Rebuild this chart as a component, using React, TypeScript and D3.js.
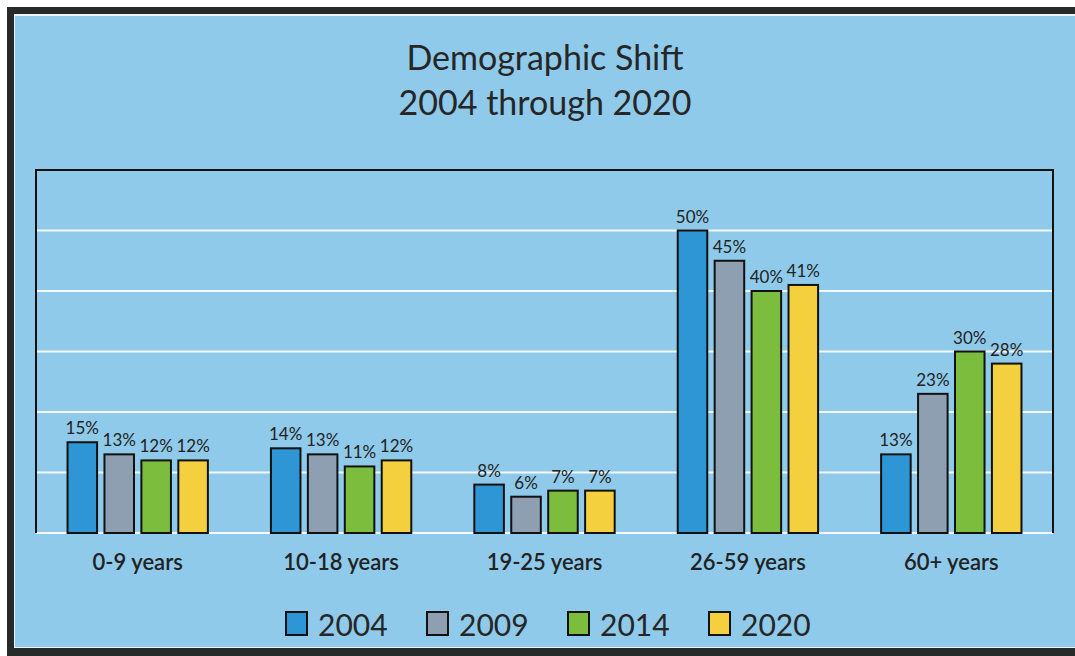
import React from "react";
import * as d3 from "d3";

// chart data
const categories = ["0-9 years", "10-18 years", "19-25 years", "26-59 years", "60+ years"];
const years = ["2004", "2009", "2014", "2020"];
const values2004 = [15, 14, 8, 50, 13];
const values2009 = [13, 13, 6, 45, 23];
const values2014 = [12, 11, 7, 40, 30];
const values2020 = [12, 12, 7, 41, 28];
const yTicks = [0, 10, 20, 30, 40, 50, 60];
const titleLines = ["Demographic Shift", "2004 through 2020"];

const seriesValues = [values2004, values2009, values2014, values2020];
const colors = ["#2e96d4", "#8d9fb1", "#7dbd3d", "#f4d03f"];

const W = 1075, H = 656;
const plot = { left: 36, top: 170, right: 1053, bottom: 533 };
const font = "Lato, 'Open Sans', sans-serif";

export default function App() {
  const x0 = d3.scaleBand().domain(categories).range([plot.left, plot.right]).paddingInner(0.31).paddingOuter(0.155);
  const x1 = d3.scaleBand().domain(years).range([0, x0.bandwidth()]).paddingInner(0.2);
  const y = d3.scaleLinear().domain([0, 60]).range([plot.bottom, plot.top]);

  const legendX = d3.scaleBand().domain(years).range([286, 850]);

  return (
    <div style={{ position: "absolute", left: 0, top: 0 }}>
      <svg width={W} height={H} style={{ display: "block" }}>
        {/* outer frame */}
        <rect x={0} y={0} width={W} height={H} fill="#ffffff" />
        <rect x={7} y={7} width={W - 7} height={H - 7} fill="#262a28" />
        <rect x={14} y={14} width={W - 14} height={634} fill="#f0f4f4" />
        <rect x={15} y={16} width={W - 15} height={631} fill="#8fcaea" />

        {titleLines.map((t, i) => (
          <text key={t} x={545} y={70 + i * 45} textAnchor="middle" fontFamily={font} fontSize={34} fill="#262626">{t}</text>
        ))}

        {/* gridlines */}
        {yTicks.slice(0, -1).map(t => (
          <line key={t} x1={plot.left} x2={plot.right} y1={y(t)} y2={y(t)} stroke="#f4f8fa" strokeWidth={2} />
        ))}
        <path d={`M${plot.left},${plot.bottom}V${plot.top}H${plot.right}V${plot.bottom}`} fill="none" stroke="#111" strokeWidth={2} />

        {seriesValues.map((vals, s) => (
          <g key={years[s]}>
            {vals.map((v, i) => {
              const bx = x0(categories[i])! + x1(years[s])!;
              return (
                <g key={i}>
                  <rect x={bx} y={y(v)} width={x1.bandwidth()} height={plot.bottom - y(v)} fill={colors[s]} stroke="#111" strokeWidth={2} />
                  <text x={bx + x1.bandwidth() / 2} y={y(v) - 8} textAnchor="middle" fontFamily={font} fontSize={17} fill="#222">{v}%</text>
                </g>
              );
            })}
          </g>
        ))}

        {categories.map(c => (
          <text key={c} x={x0(c)! + x0.bandwidth() / 2} y={570} textAnchor="middle" fontFamily={font} fontSize={22} fontWeight={600} fill="#222">{c}</text>
        ))}

        {/* legend */}
        {years.map((yr, s) => (
          <g key={yr} transform={`translate(${legendX(yr)},0)`}>
            <rect x={0} y={612} width={21} height={23} fill={colors[s]} stroke="#111" strokeWidth={2} />
            <text x={32} y={636} fontFamily={font} fontSize={30} fill="#262626">{yr}</text>
          </g>
        ))}
      </svg>
    </div>
  );
}
